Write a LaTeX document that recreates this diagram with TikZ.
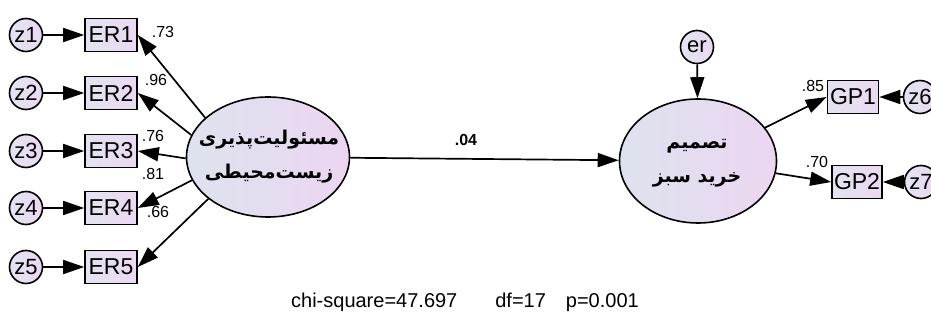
\documentclass[tikz,border=0pt]{standalone}
\usepackage{fontspec}
\setmainfont{Liberation Sans}
\newfontfamily\arabicfont[Script=Arabic]{DejaVu Sans}
\TeXXeTstate=1
\usetikzlibrary{arrows.meta,shapes.geometric}
\definecolor{fa}{HTML}{DDE3EE}
\definecolor{fb}{HTML}{ECD6F1}
\definecolor{ba}{HTML}{E3E3F0}
\definecolor{bb}{HTML}{EBD9F1}
\begin{document}
\begin{tikzpicture}[x=1pt,y=-1pt,
 lat/.style={ellipse,draw,line width=1.6pt,left color=fa,right color=fb,inner sep=0pt},
 lattext/.style={align=center,inner sep=0pt,font=\arabicfont\bfseries\fontsize{19}{34}\selectfont},
 obs/.style={rectangle,draw,line width=1.6pt,left color=ba,right color=bb,minimum width=52pt,minimum height=33pt,inner sep=0pt,
   font=\fontsize{23}{23}\selectfont},
 err/.style={circle,draw,line width=1.6pt,left color=ba,right color=bb,minimum size=33pt,inner sep=0pt,
   font=\fontsize{22}{22}\selectfont},
 arr/.style={-{Triangle[length=21pt,width=14pt]},line width=1.7pt},
 lbl/.style={font=\fontsize{16}{16}\selectfont,inner sep=0pt}
]
\useasboundingbox (0,0) rectangle (931,320);
% latent variables
\node[lat,minimum width=163pt,minimum height=120pt] (E) at (268,157) {};
\node[lattext] (Et) at (269,157)
  {\beginR مسئولیت^^^^200cپذیری\endR\\\beginR زیست^^^^200cمحیطی\endR};
\node[lat,minimum width=157pt,minimum height=124pt] (T) at (698,161) {};
\node[lattext] (Tt) at (697,163)
  {\beginR تصمیم\endR\\\beginR خرید سبز\endR};
% errors
\foreach \i/\y in {1/35,2/93,3/151,4/208,5/267}{
  \node[err] (z\i) at (26,\y) {z\i};
  \node[obs] (ER\i) at (111,\y) {ER\i};
  \draw[arr] (z\i) -- (ER\i);
}
\node[err] (er) at (697,47) {er};
\node[obs,minimum width=51pt] (GP1) at (853,97) {GP1};
\node[obs,minimum width=50pt] (GP2) at (857,182) {GP2};
\node[err] (z6) at (920,97) {z6};
\node[err] (z7) at (921,182) {z7};
% paths
\draw[arr] (E.148) -- (ER1.east);
\draw[arr] (E.164) -- (ER2.east);
\draw[arr] (E.181) -- (ER3.east);
\draw[arr] (E.197) -- (ER4.east);
\draw[arr] (E.215) -- (ER5.east);
\draw[arr] (E) -- (T);
\draw[arr] (er) -- (T);
\draw[arr] (T) -- (GP1.west);
\draw[arr] (T) -- (GP2.west);
\draw[arr] (z6) -- (GP1);
\draw[arr] (z7) -- (GP2);
% labels
\node[lbl] (l1) at (163,32) {.73};
\node[lbl] (l2) at (156,80) {.96};
\node[lbl] (l3) at (153,136) {.76};
\node[lbl] (l4) at (153,174) {.81};
\node[lbl] (l5) at (158,212) {.66};
\node[lbl,font=\bfseries\fontsize{16}{16}\selectfont] (l0) at (466,140) {.04};
\node[lbl] (l6) at (813,86) {.85};
\node[lbl] (l7) at (817,162) {.70};
\node[font=\fontsize{20}{20}\selectfont,inner sep=0pt] (fit) at (465,302)
  {chi-square=47.697\hspace{1.9em}df=17\hspace{1em}p=0.001};
\end{tikzpicture}
\end{document}
